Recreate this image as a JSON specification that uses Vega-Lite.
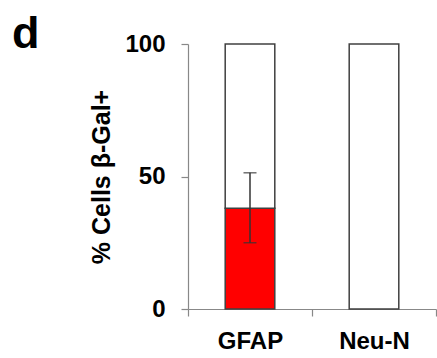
{
  "$schema": "https://vega.github.io/schema/vega-lite/v6.json",
  "width": 248,
  "height": 265,
  "autosize": "none",
  "padding": {"left": 188, "top": 44, "right": 1, "bottom": 49},
  "background": "white",
  "title": {
    "text": "d",
    "anchor": "start",
    "frame": "group",
    "fontSize": 45,
    "fontWeight": "bold",
    "font": "Liberation Sans",
    "color": "#000000",
    "baseline": "alphabetic",
    "dx": -176,
    "offset": 0,
    "dy": 61
  },
  "config": {
    "view": {"stroke": null},
    "font": "Liberation Sans"
  },
  "datasets": {
    "bars": [
      {"cell": "GFAP", "seg": "pos", "start": 0, "end": 38},
      {"cell": "GFAP", "seg": "neg", "start": 38, "end": 100},
      {"cell": "Neu-N", "seg": "neg", "start": 0, "end": 100}
    ],
    "err": [
      {"cell": "GFAP", "lo": 25, "hi": 51.4}
    ]
  },
  "encoding": {
    "x": {
      "field": "cell",
      "type": "nominal",
      "sort": ["GFAP", "Neu-N"],
      "scale": {"paddingInner": 0, "paddingOuter": 0},
      "axis": {
        "title": null,
        "labelAngle": 0,
        "labelFont": "Liberation Sans",
        "labelFontSize": 24,
        "labelFontWeight": "bold",
        "labelColor": "#000000",
        "labelPadding": 13,
        "tickBand": "extent",
        "domainColor": "#888888",
        "tickColor": "#888888",
        "tickSize": 7,
        "domainWidth": 1.2,
        "tickWidth": 1.2
      }
    }
  },
  "layer": [
    {
      "data": {"name": "bars"},
      "mark": {"type": "bar", "width": {"band": 0.4}, "stroke": "#404040", "strokeWidth": 1.5},
      "encoding": {
        "y": {
          "field": "start",
          "type": "quantitative",
          "title": "% Cells β-Gal+",
          "scale": {"domain": [0, 100], "nice": false},
          "axis": {
            "titleFont": "Liberation Sans",
            "titleFontSize": 25,
            "titleFontWeight": "bold",
            "titleColor": "#000000",
            "titlePadding": 10,
            "values": [0, 50, 100],
            "grid": false,
            "labelFont": "Liberation Sans",
            "labelFontSize": 24,
            "labelFontWeight": "bold",
            "labelColor": "#000000",
            "labelPadding": 16,
            "domainColor": "#888888",
            "tickColor": "#888888",
            "tickSize": 7,
            "domainWidth": 1.2,
            "tickWidth": 1.2
          }
        },
        "y2": {"field": "end"},
        "fill": {
          "field": "seg",
          "type": "nominal",
          "scale": {"domain": ["pos", "neg"], "range": ["#ff0000", "#ffffff"]},
          "legend": null
        }
      }
    },
    {
      "data": {"name": "err"},
      "mark": {"type": "errorbar", "ticks": {"size": 13, "strokeWidth": 1.5}, "color": "#333333", "thickness": 1.5},
      "encoding": {
        "y": {"field": "lo", "type": "quantitative", "title": "% Cells β-Gal+"},
        "y2": {"field": "hi"}
      }
    }
  ]
}
